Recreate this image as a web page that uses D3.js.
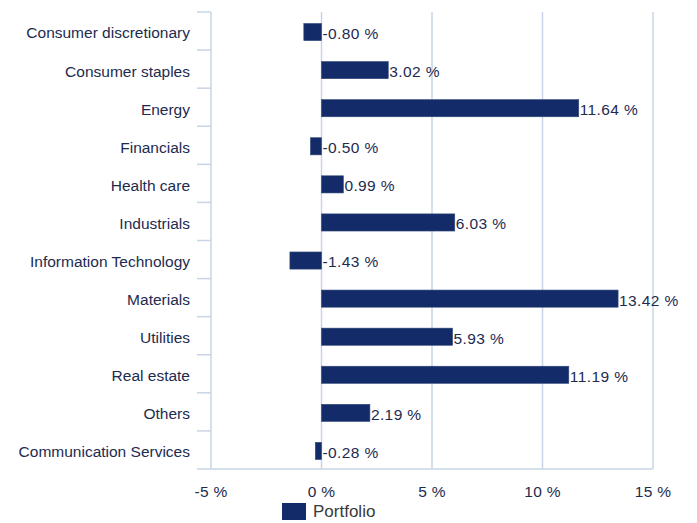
<!DOCTYPE html>
<html>
<head>
<meta charset="utf-8">
<script src="https://cdn.jsdelivr.net/npm/d3@7"></script>
<style>
  html, body { margin: 0; padding: 0; background: #fff; }
  svg { display: block; font-family: "Liberation Sans", Arial, sans-serif; }
</style>
</head>
<body>
<svg id="chart" width="697" height="523"></svg>
<script>
// Sector allocation relative to benchmark
const categories = [
  "Consumer discretionary", "Consumer staples", "Energy", "Financials",
  "Health care", "Industrials", "Information Technology", "Materials",
  "Utilities", "Real estate", "Others", "Communication Services"
];
const portfolio = [-0.80, 3.02, 11.64, -0.50, 0.99, 6.03, -1.43, 13.42, 5.93, 11.19, 2.19, -0.28];
const xTicks = [-5, 0, 5, 10, 15];
const seriesName = "Portfolio";

const svg = d3.select("#chart");
const margin = { top: 12, right: 44, bottom: 54, left: 211 };
const W = 697, H = 523;

const x = d3.scaleLinear().domain([-5, 15]).range([margin.left, W - margin.right]);
const y = d3.scaleBand().domain(categories).range([margin.top + 1, H - margin.bottom + 1]).paddingInner(0.55).paddingOuter(0.275);
const band = d3.scaleBand().domain(categories).range([margin.top, H - margin.bottom]);

const gridColor = "#c9d4e6";
const barColor = "#132c69";
const textColor = "#1d2b4f";
const fs = 15.5;

// vertical gridlines
svg.append("g").selectAll("line").data(xTicks.slice(1)).join("line")
  .attr("x1", d => x(d)).attr("x2", d => x(d))
  .attr("y1", margin.top).attr("y2", H - margin.bottom)
  .attr("stroke", gridColor).attr("stroke-width", 1.5);

// left axis with category separators
const yAxisG = svg.append("g");
yAxisG.append("line")
  .attr("x1", margin.left).attr("x2", margin.left)
  .attr("y1", margin.top).attr("y2", H - margin.bottom)
  .attr("stroke", gridColor).attr("stroke-width", 1.5);
const seps = categories.map(c => band(c)).concat([H - margin.bottom]);
yAxisG.selectAll("line.sep").data(seps).join("line").attr("class", "sep")
  .attr("x1", margin.left - 14).attr("x2", margin.left)
  .attr("y1", d => d).attr("y2", d => d)
  .attr("stroke", gridColor).attr("stroke-width", 1.5);

// bottom axis line
svg.append("line")
  .attr("x1", margin.left).attr("x2", W - margin.right)
  .attr("y1", H - margin.bottom).attr("y2", H - margin.bottom)
  .attr("stroke", gridColor).attr("stroke-width", 1.5);

// category labels
svg.append("g").selectAll("text").data(categories).join("text")
  .attr("x", margin.left - 21)
  .attr("y", d => band(d) + band.bandwidth() / 2 + 2)
  .attr("dy", "0.35em")
  .attr("text-anchor", "end")
  .attr("font-size", fs)
  .attr("fill", textColor)
  .text(d => d);

// x tick labels
svg.append("g").selectAll("text").data(xTicks).join("text")
  .attr("x", d => x(d))
  .attr("y", H - margin.bottom + 23)
  .attr("dy", "0.35em")
  .attr("text-anchor", "middle")
  .attr("font-size", fs)
  .attr("letter-spacing", 0.3)
  .attr("fill", textColor)
  .text(d => d + " %");

// bars
svg.append("g").selectAll("rect").data(categories).join("rect")
  .attr("x", (d, i) => x(Math.min(0, portfolio[i])))
  .attr("y", d => y(d))
  .attr("width", (d, i) => Math.abs(x(portfolio[i]) - x(0)))
  .attr("height", y.bandwidth())
  .attr("fill", barColor)
  .attr("stroke", "#33497a")
  .attr("stroke-width", 0.6);

// value labels (plain hyphen for negatives)
const fmt = v => v.toFixed(2) + " %";
svg.append("g").selectAll("text").data(categories).join("text")
  .attr("x", (d, i) => x(Math.max(0, portfolio[i])) + 1)
  .attr("y", d => band(d) + band.bandwidth() / 2 + 2.5)
  .attr("dy", "0.35em")
  .attr("font-size", fs)
  .attr("letter-spacing", 0.4)
  .attr("fill", textColor)
  .text((d, i) => fmt(portfolio[i]));

// legend
const lg = svg.append("g").attr("transform", "translate(282,503)");
lg.append("rect").attr("width", 24).attr("height", 17).attr("fill", barColor);
lg.append("text").attr("x", 31).attr("y", 8.5).attr("dy", "0.35em")
  .attr("font-size", 17).attr("fill", "#3a3a3a").text(seriesName);
</script>
</body>
</html>
